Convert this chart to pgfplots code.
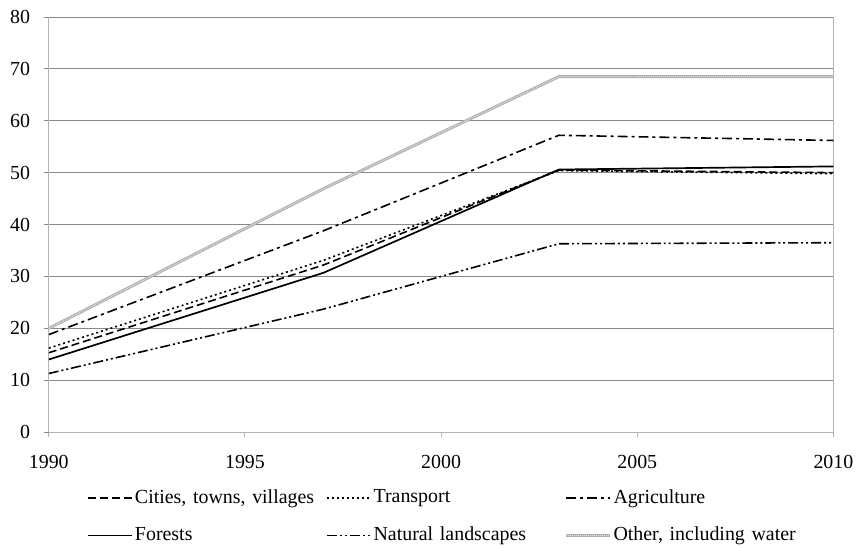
\documentclass[border=0pt]{standalone}
\usepackage{fontspec}
\setmainfont{Liberation Serif}
\usepackage{pgfplots}
\pgfplotsset{compat=1.18}
\definecolor{gridc}{HTML}{888888}
\definecolor{axc}{HTML}{B4B4B4}
\definecolor{otherc}{HTML}{B0B0B0}
\begin{document}
\fontsize{20}{23}\selectfont
\begin{tikzpicture}
\begin{axis}[
  name=main,
  scale only axis,
  width=788pt, height=417pt,
  xmin=1990, xmax=2010, ymin=0, ymax=80,
  xtick={1990,1995,2000,2005,2010},
  ytick={0,10,...,80},
  /pgf/number format/1000 sep={},
  /pgf/number format/assume math mode=true,
  axis x line*=bottom, axis y line*=left,
  axis line style={draw=axc, line width=1.3pt},
  ymajorgrids,
  major grid style={draw=gridc, line width=0.7pt},
  tick align=outside,
  major tick length=5pt,
  xtick style={draw=axc, line width=1pt},
  ytick style={draw=gridc, line width=0.7pt},
  extra x ticks={2010}, extra x tick labels={},
  extra x tick style={grid=major, major grid style={draw=axc, line width=1.3pt}, major tick length=5pt},
  ticklabel style={font=\fontsize{20}{23}\selectfont},
  xticklabel style={yshift=-11pt},
  yticklabel style={xshift=-7pt},
  legend columns=3,
  legend style={at={(0.5,-0.13)}, anchor=north, xshift=5pt, draw=none, fill=none,
    font=\fontsize{20}{23}\selectfont, row sep=19pt,
    nodes={text width=190pt, anchor=west, inner xsep=2pt, inner ysep=1pt}},
  legend cell align=left,
  legend image code/.code={\draw[#1] (0pt,0pt) -- (44pt,0pt);},
]
\addplot[black, line width=1.6pt, dash pattern=on 8pt off 4pt] coordinates {(1990,15.3) (1997,32.2) (2003,50.5) (2010,50.0)};
\addlegendentry{Cities, towns, villages}
\addplot[black, line width=1.6pt, dash pattern=on 2pt off 3pt] coordinates {(1990,16.2) (1997,33.1) (2003,50.4) (2010,49.8)};
\addlegendentry{Transport}
\addplot[black, line width=1.6pt, dash pattern=on 10pt off 4pt on 3pt off 4pt] coordinates {(1990,18.8) (1997,38.8) (2003,57.2) (2010,56.2)};
\addlegendentry{Agriculture}
\addplot[black, line width=1.7pt] coordinates {(1990,14.0) (1997,30.7) (2003,50.6) (2010,51.2)};
\addlegendentry{Forests}
\addplot[black, line width=1.6pt, dash pattern=on 10pt off 3pt on 2pt off 3pt on 2pt off 3pt] coordinates {(1990,11.3) (1997,23.7) (2003,36.3) (2010,36.5)};
\addlegendentry{Natural landscapes}
\addplot[otherc, line width=3pt, postaction={draw=gray!20, line width=1pt, dash pattern=on 1pt off 1pt}] coordinates {(1990,20.0) (1997,46.9) (2003,68.5) (2010,68.5)};
\addlegendentry{Other, including water}
\end{axis}
\path (main.south west) ++(-49pt,-116pt) rectangle ++(860pt,550pt);
\end{tikzpicture}
\end{document}
